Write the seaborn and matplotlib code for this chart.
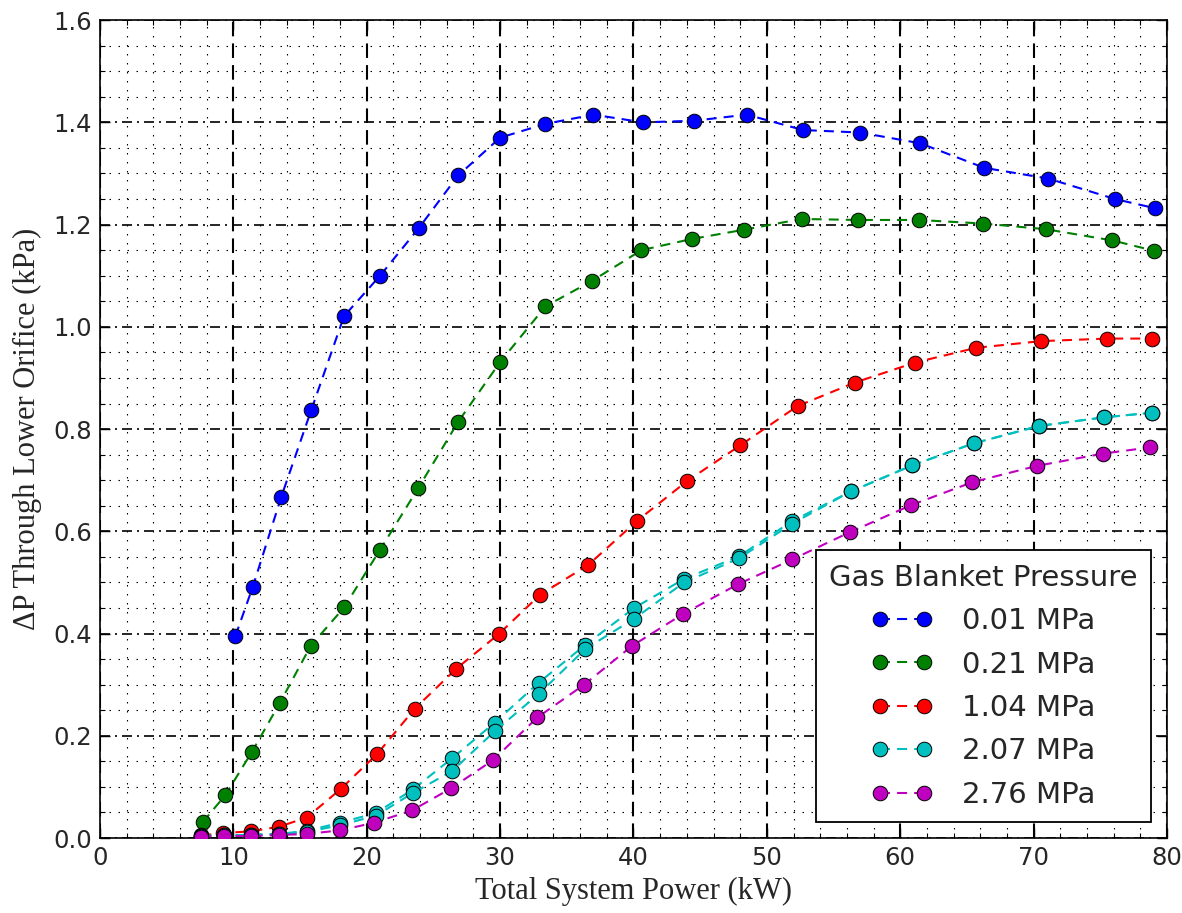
import numpy as np
import pandas as pd
import matplotlib
matplotlib.use("Agg")
import matplotlib.pyplot as plt
from matplotlib.ticker import MultipleLocator, FormatStrFormatter
from matplotlib.lines import Line2D
import seaborn as sns

# ---------------- data ----------------
power_001 = [10.15, 11.45, 13.6, 15.85, 18.3, 21.0, 23.9, 26.85, 30.0, 33.4, 37.0,
             40.7, 44.5, 48.5, 52.7, 57.0, 61.5, 66.3, 71.1, 76.1, 79.1]
dp_001 = [0.395, 0.491, 0.668, 0.838, 1.021, 1.100, 1.193, 1.296, 1.370, 1.397, 1.415,
          1.400, 1.403, 1.415, 1.385, 1.380, 1.359, 1.311, 1.290, 1.250, 1.232]

power_021 = [7.7, 9.4, 11.4, 13.5, 15.8, 18.3, 21.0, 23.85, 26.85, 30.0, 33.4,
             36.9, 40.6, 44.4, 48.3, 52.6, 56.8, 61.4, 66.2, 70.9, 75.9, 79.0]
dp_021 = [0.031, 0.084, 0.169, 0.265, 0.376, 0.451, 0.564, 0.684, 0.814, 0.931, 1.040,
          1.090, 1.150, 1.172, 1.190, 1.211, 1.209, 1.209, 1.202, 1.191, 1.169, 1.149]

power_104 = [7.6, 9.25, 11.3, 13.4, 15.5, 18.05, 20.8, 23.6, 26.7, 29.9, 33.0,
             36.6, 40.25, 44.0, 48.0, 52.3, 56.6, 61.1, 65.7, 70.55, 75.5, 78.85]
dp_104 = [0.005, 0.010, 0.013, 0.022, 0.040, 0.096, 0.165, 0.253, 0.331, 0.399, 0.476,
          0.534, 0.620, 0.698, 0.768, 0.845, 0.891, 0.930, 0.959, 0.972, 0.977, 0.977]

power_207 = [7.6, 9.3, 11.3, 13.4, 15.5, 18.0, 20.7, 23.45, 26.4, 29.6, 32.9,
             36.4, 40.05, 43.8, 47.9, 51.9, 56.3, 60.9, 65.5, 70.4, 75.3, 78.9]
dp_207_a = [0.004, 0.005, 0.006, 0.008, 0.014, 0.030, 0.049, 0.095, 0.156, 0.226, 0.304,
            0.378, 0.450, 0.507, 0.551, 0.620, 0.678, 0.729, 0.772, 0.806, 0.823, 0.832]
dp_207_b = [0.004, 0.005, 0.006, 0.008, 0.012, 0.025, 0.044, 0.088, 0.131, 0.209, 0.282,
            0.370, 0.429, 0.500, 0.547, 0.615, 0.678, 0.729, 0.772, 0.806, 0.823, 0.832]

power_276 = [7.6, 9.3, 11.3, 13.4, 15.5, 18.0, 20.55, 23.4, 26.3, 29.45, 32.8,
             36.3, 39.9, 43.7, 47.8, 51.9, 56.2, 60.8, 65.4, 70.25, 75.2, 78.7]
dp_276 = [0.003, 0.004, 0.004, 0.006, 0.008, 0.015, 0.030, 0.054, 0.097, 0.152, 0.236,
          0.300, 0.376, 0.438, 0.496, 0.545, 0.598, 0.651, 0.696, 0.728, 0.752, 0.764]

series_labels = ["0.01 MPa", "0.21 MPa", "1.04 MPa", "2.07 MPa", "2.76 MPa"]
series_colors = [(0, 0, 1), (0, 0.5, 0), (1, 0, 0), (0, 0.75, 0.75), (0.75, 0, 0.75)]

x_ticks = [0, 10, 20, 30, 40, 50, 60, 70, 80]
y_ticks = [0.0, 0.2, 0.4, 0.6, 0.8, 1.0, 1.2, 1.4, 1.6]

# ---------------- style ----------------
sns.set_style("white")
plt.rcParams["font.family"] = ["DejaVu Sans"]
plt.rcParams["lines.scale_dashes"] = True

fig = plt.figure(figsize=(11.82, 9.13), dpi=100)
ax = fig.add_axes([0.0846, 0.0821, 0.9873 - 0.0846, 0.978 - 0.0821])

runs = [
    (power_001, dp_001, 0),
    (power_021, dp_021, 1),
    (power_104, dp_104, 2),
    (power_207, dp_207_a, 3),
    (power_207, dp_207_b, 3),
    (power_276, dp_276, 4),
]

msize = 10.5
line_dash = (0, (4.8, 3.4))
for xs, ys, ci in runs:
    df = pd.DataFrame({"power": xs, "dp": ys})
    sns.lineplot(data=df, x="power", y="dp", ax=ax, color=series_colors[ci],
                 estimator=None, sort=False, marker="o", markersize=msize,
                 markeredgecolor="k", markeredgewidth=0.7,
                 linewidth=1.5, linestyle=line_dash, zorder=3, legend=False)

ax.set_xlim(0, 80)
ax.set_ylim(0, 1.6)
ax.set_xticks(x_ticks)
ax.set_yticks(y_ticks)
ax.yaxis.set_major_formatter(FormatStrFormatter("%.1f"))
ax.xaxis.set_minor_locator(MultipleLocator(2))
ax.yaxis.set_minor_locator(MultipleLocator(0.05))

ax.set_axisbelow(True)
ax.xaxis.grid(True, which="major", color="k", linestyle=(0, (7, 3.4)), linewidth=1.5)
ax.yaxis.grid(True, which="major", color="k", linestyle=(0, (6, 3, 1.2, 3)), linewidth=1.2)
ax.xaxis.grid(True, which="minor", color="k", linestyle=(0, (1.35, 6.75)), linewidth=0.8)
ax.yaxis.grid(True, which="minor", color="k", linestyle=(0, (1.35, 6.75)), linewidth=0.8)

for sp in ax.spines.values():
    sp.set_visible(True)
    sp.set_color("k")
    sp.set_linewidth(1.2)

ax.tick_params(which="both", direction="in", top=True, right=True, bottom=True, left=True,
               color="k")
ax.tick_params(which="major", length=7, width=1, labelsize=17.5, pad=6)
ax.tick_params(which="minor", length=3.5, width=0.8)

ax.set_xlabel("Total System Power (kW)", family=["Liberation Serif", "DejaVu Serif"],
              fontsize=22, labelpad=5)
ax.set_ylabel("ΔP Through Lower Orifice (kPa)", family=["Liberation Serif", "DejaVu Serif"],
              fontsize=22, labelpad=8)

handles = [Line2D([], [], color=c, marker="o", markersize=msize, markeredgecolor="k",
                  markeredgewidth=0.7, linewidth=1.5, linestyle=line_dash)
           for c in series_colors]
leg = ax.legend(handles, series_labels, title="Gas Blanket Pressure", loc="lower right",
                numpoints=2, fontsize=21, title_fontsize=21, handlelength=2.1,
                handletextpad=1.0, labelspacing=0.53, borderaxespad=0.55,
                fancybox=False, frameon=True, framealpha=1, borderpad=0.45)
leg.get_frame().set_edgecolor("k")
leg.get_frame().set_linewidth(1.3)
leg.set_zorder(5)

fig.savefig("out.png", dpi=100)
